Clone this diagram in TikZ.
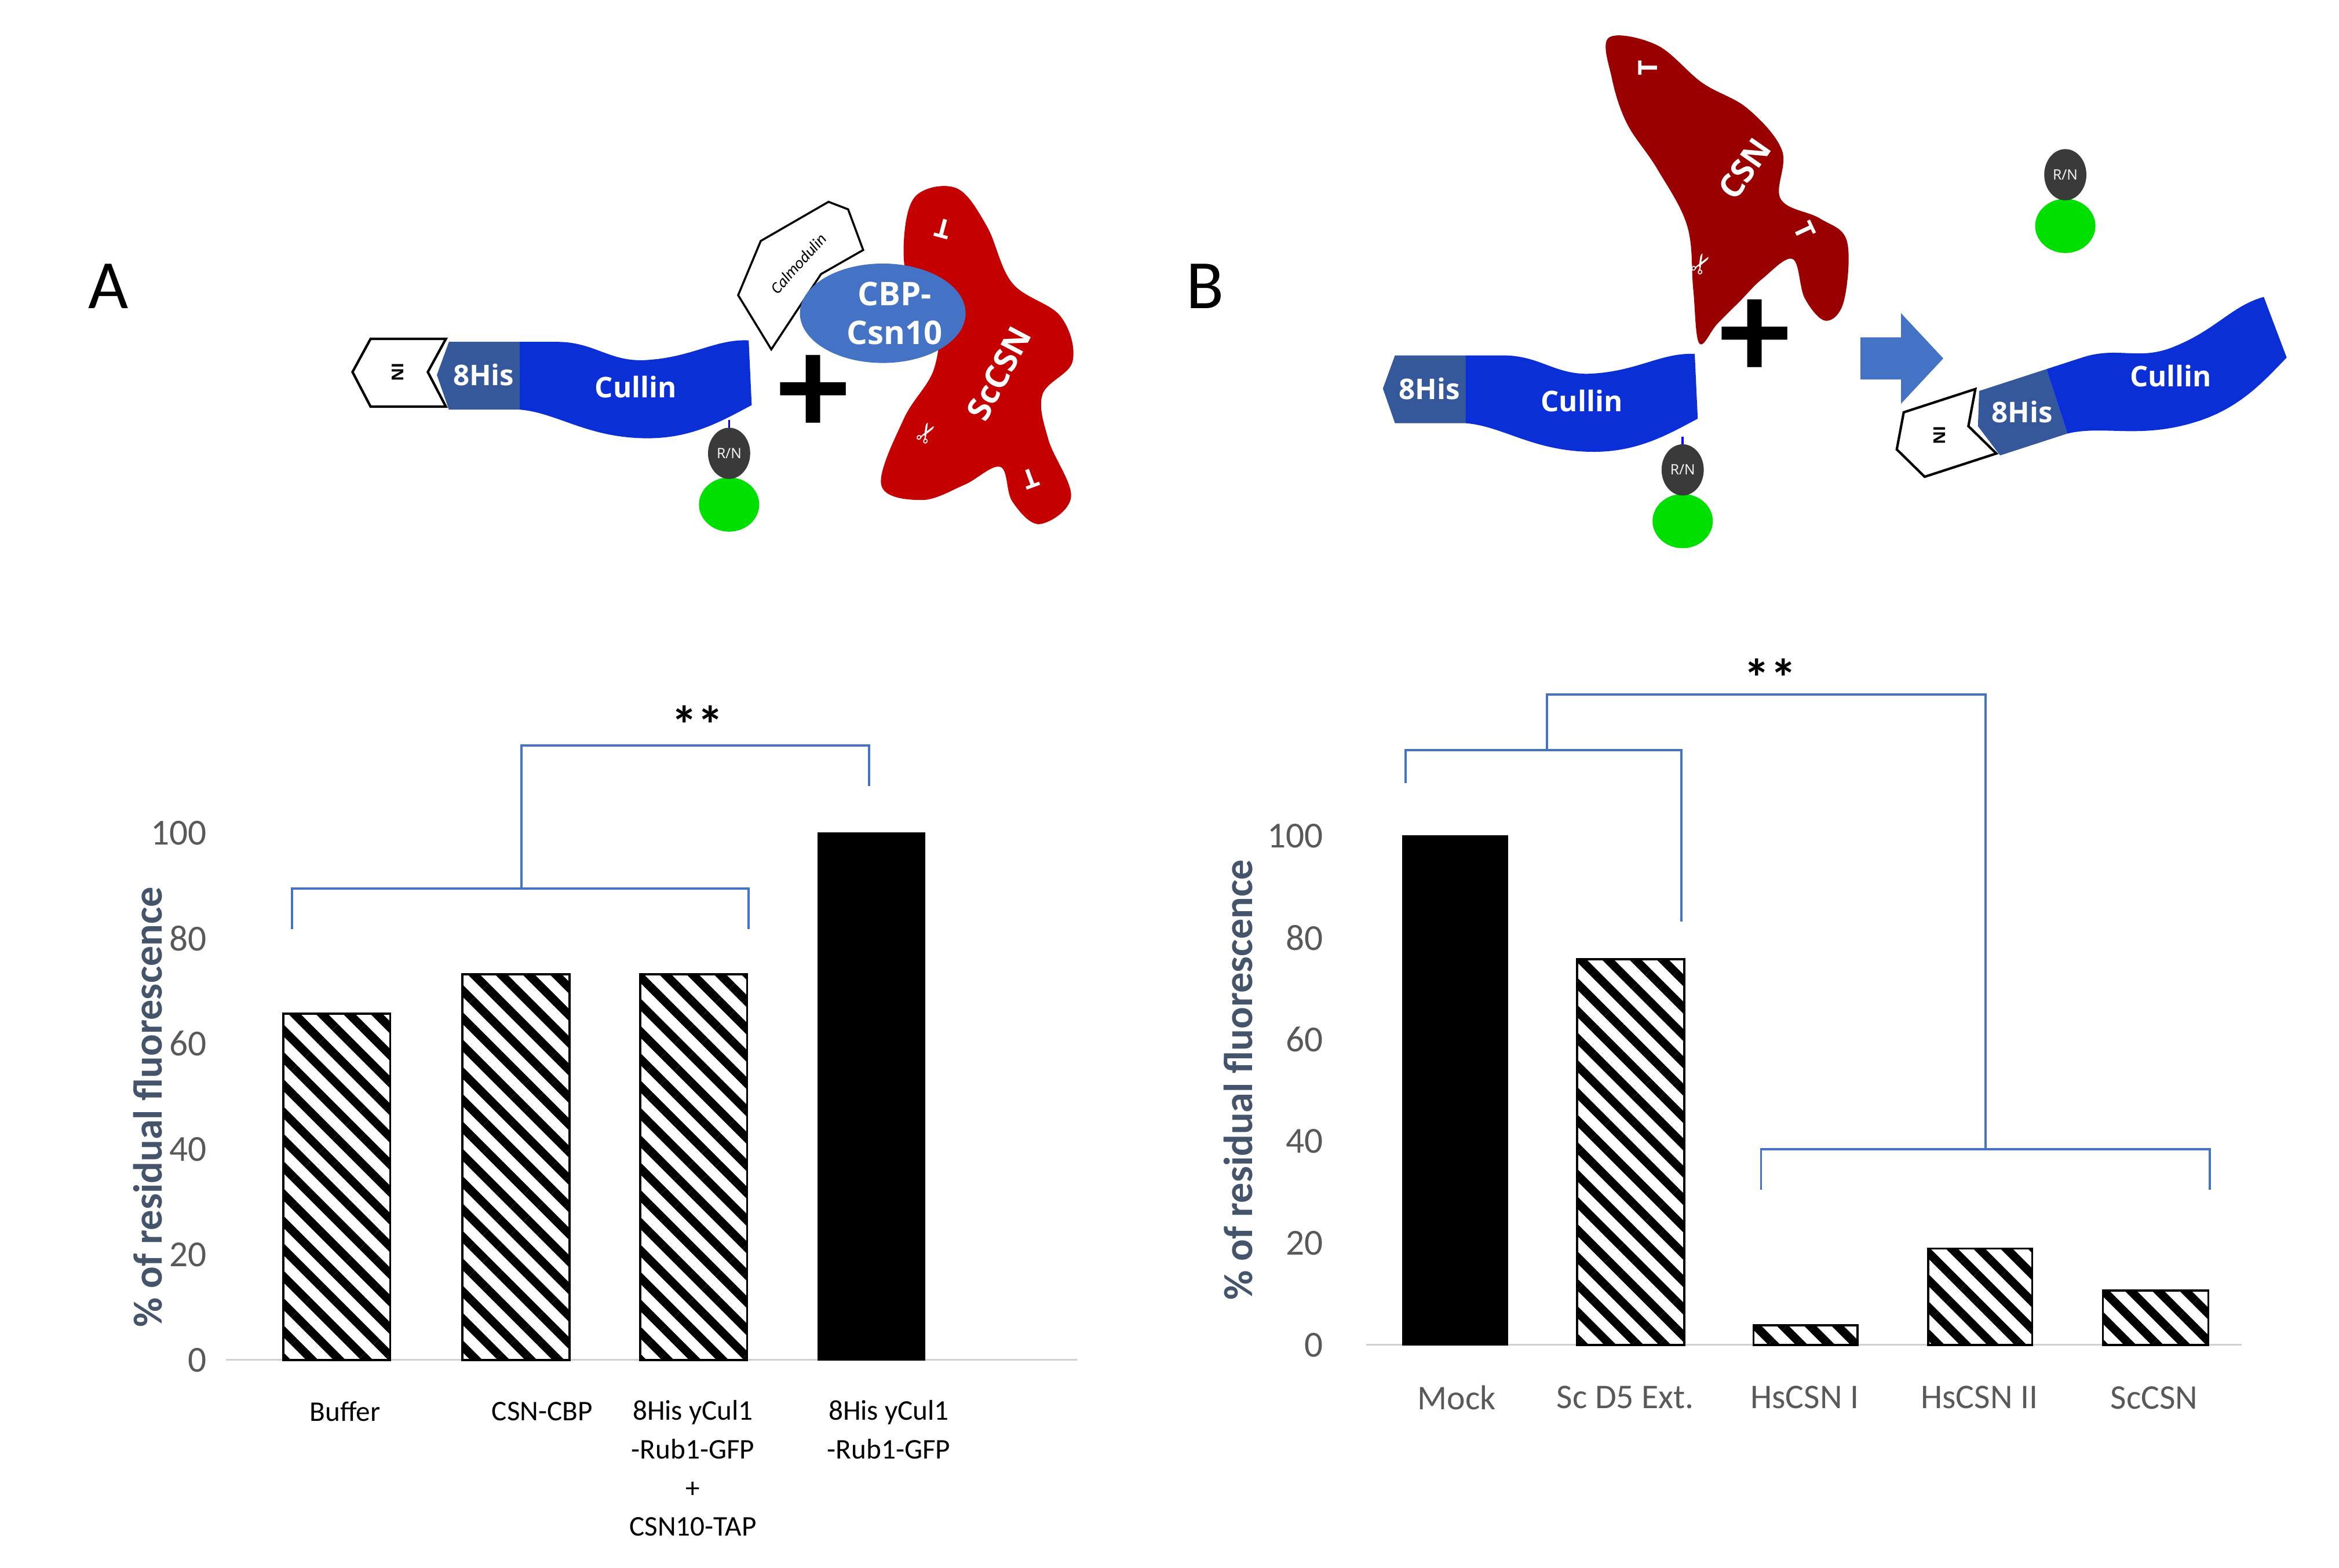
\documentclass[tikz,border=0pt]{standalone}
\usepackage{fontspec}
\setmainfont{Carlito}
\newfontfamily\segoe{Open Sans}
\newfontfamily\dejavu{DejaVu Sans}
\usetikzlibrary{patterns.meta}
\definecolor{cul}{HTML}{0B2FD6}
\definecolor{his}{HTML}{35589A}
\definecolor{cbp}{HTML}{4472C4}
\definecolor{scred}{HTML}{C40000}
\definecolor{csnred}{HTML}{9A0000}
\definecolor{rn}{HTML}{3A3A3A}
\definecolor{gfp}{HTML}{00E000}
\definecolor{tickc}{HTML}{595959}
\definecolor{titc}{HTML}{44546A}
\definecolor{axc}{HTML}{D0D0D0}
\tikzset{
  hatchbar/.style={draw=black, line width=1pt, pattern={Lines[angle=-45,distance=9.5pt,line width=4.2pt]}},
  solidbar/.style={draw=black, fill=black},
  brk/.style={draw=cbp, line width=1.1pt},
  ticklab/.style={anchor=east, text=tickc, font=\fontsize{18}{20}\selectfont},
  ytitle/.style={rotate=90, text=titc, font=\bfseries\fontsize{20}{22}\selectfont},
  catA/.style={align=center, font=\fontsize{14}{19}\selectfont},
  catB/.style={text=tickc, font=\fontsize{17}{20}\selectfont},
  wlab/.style={text=white, font=\segoe\bfseries\fontsize{14}{16}\selectfont},
  stars/.style={font=\bfseries\fontsize{26}{26}\selectfont},
  tagshape/.style={draw=black, fill=white, line width=1.2pt},
}
\newcommand{\culband}{%
  \fill[his] (0,0) -- (8,-22) -- (55,-22) -- (55,23) -- (8,23) -- cycle;
  \fill[cul] (55,-22) -- (80,-22) .. controls (105,-22) and (115,-8) .. (140,-10)
     .. controls (170,-12) and (185,-24) .. (207,-23) -- (209,20)
     .. controls (190,30) and (170,42) .. (140,42) .. controls (100,42) and (80,25) .. (55,23) -- cycle;
  \node[wlab] (cultext) at (132,8) {Cullin};
  \node[wlab] (histext) at (31,0) {8His};
}
\newcommand{\tagchev}{%
  \filldraw[tagshape] (-56,-2) -- (-44,-24) -- (6,-24) -- (-6,-2) -- (6,21) -- (-44,21) -- cycle;
  \node[rotate=-90, font=\segoe\bfseries\fontsize{8}{8}\selectfont] (tagtext) at (-26,-2) {IN};
}
\newcommand{\rngfp}[2]{%
  \fill[gfp] (#1,#2+34) ellipse (20 and 18);
  \fill[rn] (#1,#2) ellipse (14 and 17);
  \node[text=white, font=\segoe\fontsize{7}{7}\selectfont] at (#1,#2) {R/N};
}
\newcommand{\rnlink}[2]{\draw[blue, line width=1pt] (#1,#2-22) -- (#1,#2-16);}
\begin{document}
\begin{tikzpicture}[x=0.026cm, y=-0.026cm]
\useasboundingbox (0,0) rectangle (1552.7,1040.8);
\fill[white] (0,0) rectangle (1552.7,1040.8);

% ---------------- Panel A illustration ----------------
\node[font=\fontsize{34}{34}\selectfont] (labA) at (72,190) {A};
\begin{scope}[shift={(290,249)}]
  \tagchev
  \culband
  \rnlink{194}{52}
  \rngfp{194}{52}
\end{scope}
\node[font=\bfseries\fontsize{70}{70}\selectfont] (plusA) at (540,262) {+};
\fill[scred] plot[smooth cycle, tension=0.6] coordinates {
 (608,130) (635,125) (655,150) (672,188) (704,210) (712,240) (692,262) (696,292)
 (711,330) (690,348) (672,333) (664,310) (640,322) (612,332) (585,322) (600,278)
 (620,245) (622,210) (604,192) (600,160)};
\filldraw[tagshape, line width=1pt] (490,196) -- (505,160) -- (550,134) -- (563,139) -- (573,166) -- (545,182) -- (512,232) -- cycle;
\node[rotate=48, font=\itshape\fontsize{8}{8}\selectfont] (calm) at (530,175) {Calmodulin};
\fill[cbp] (586,208) ellipse (55 and 33);
\node[align=center, text=white, font=\segoe\bfseries\fontsize{16}{19}\selectfont] (cbpt) at (594,208) {CBP-\\Csn10};
\node[rotate=62, text=white, font=\segoe\bfseries\fontsize{16}{16}\selectfont] (sccsn) at (663,248) {ScCSN};
\node[rotate=165, text=white, font=\segoe\bfseries\fontsize{13}{13}\selectfont] at (626,152) {T};
\node[rotate=200, text=white, font=\segoe\bfseries\fontsize{13}{13}\selectfont] at (684,318) {T};
\node[rotate=60, text=white, font=\dejavu\fontsize{13}{13}\selectfont] at (616,288) {✂};

% ---------------- Panel B illustration ----------------
\node[font=\fontsize{34}{34}\selectfont] (labB) at (800,190) {B};
\fill[csnred] plot[smooth cycle, tension=0.6] coordinates {
 (1068,25) (1100,30) (1130,55) (1160,72) (1183,100) (1182,132) (1208,145) (1226,160)
 (1224,200) (1212,213) (1198,198) (1190,172) (1170,185) (1155,200) (1140,215) (1128,228)
 (1124,192) (1120,150) (1100,112) (1080,82) (1070,52)};
\node[rotate=55, text=white, font=\segoe\bfseries\fontsize{16}{16}\selectfont] (csn) at (1158,112) {CSN};
\node[rotate=90, text=white, font=\segoe\bfseries\fontsize{13}{13}\selectfont] at (1094,45) {T};
\node[rotate=-65, text=white, font=\segoe\bfseries\fontsize{13}{13}\selectfont] at (1198,153) {T};
\node[rotate=60, text=white, font=\dejavu\fontsize{13}{13}\selectfont] at (1130,176) {✂};
\node[font=\bfseries\fontsize{70}{70}\selectfont] (plusB) at (1165,225) {+};
\begin{scope}[shift={(918,258)}]
  \culband
  \rnlink{199}{54}
  \rngfp{199}{54}
\end{scope}
\fill[cbp] (1235,224) -- (1262,224) -- (1262,208) -- (1290,238) -- (1262,268) -- (1262,252) -- (1235,252) -- cycle;
\rngfp{1371}{116}
\begin{scope}[shift={(1313,283)}, rotate=18]
  \tagchev
  \culband
\end{scope}

% ---------------- Chart A ----------------
\draw[axc, line width=0.8pt] (150,903) -- (715,903);
\foreach \v/\yy in {0/903,20/833,40/763,60/693,80/623,100/553}
  \node[ticklab] at (142,\yy) {\v};
\node[ytitle] (ytA) at (98,735) {\% of residual fluorescence};
\filldraw[hatchbar] (188,903) rectangle (259,673);
\filldraw[hatchbar] (307,903) rectangle (378,647);
\filldraw[hatchbar] (425,903) rectangle (496,647);
\filldraw[solidbar] (543,903) rectangle (614,553);
\node[catA] (cA1) at (229,937) {Buffer};
\node[catA] (cA2) at (360,937) {CSN-CBP};
\node[catA, anchor=north] (cA3) at (460,925) {8His yCul1\\-Rub1-GFP\\+\\CSN10-TAP};
\node[catA, anchor=north] (cA4) at (590,925) {8His yCul1\\-Rub1-GFP};
\draw[brk] (194,617) -- (194,590) -- (497,590) -- (497,617);
\draw[brk] (346,590) -- (346,495) -- (577,495) -- (577,522);
\node[stars] (stA) at (463,481) {**};

% ---------------- Chart B ----------------
\draw[axc, line width=0.8pt] (907,893) -- (1488,893);
\foreach \v/\yy in {0/893,20/825.4,40/757.8,60/690.2,80/622.6,100/555}
  \node[ticklab] at (883,\yy) {\v};
\node[ytitle] (ytB) at (822,717) {\% of residual fluorescence};
\filldraw[solidbar] (931,893) rectangle (1001,555);
\filldraw[hatchbar] (1047,893) rectangle (1118,637);
\filldraw[hatchbar] (1164,893) rectangle (1233,880);
\filldraw[hatchbar] (1280,893) rectangle (1349,829);
\filldraw[hatchbar] (1396,893) rectangle (1466,857);
\node[catB] (cB1) at (967,928) {Mock};
\node[catB] (cB2) at (1079,928) {Sc D5 Ext.};
\node[catB] (cB3) at (1198,928) {HsCSN I};
\node[catB] (cB4) at (1314,928) {HsCSN II};
\node[catB] (cB5) at (1430,928) {ScCSN};
\draw[brk] (933,520) -- (933,498) -- (1116,498) -- (1116,612);
\draw[brk] (1169,790) -- (1169,763) -- (1467,763) -- (1467,790);
\draw[brk] (1027,498) -- (1027,461) -- (1318,461) -- (1318,763);
\node[stars] (stB) at (1175,450) {**};
\end{tikzpicture}
\end{document}
